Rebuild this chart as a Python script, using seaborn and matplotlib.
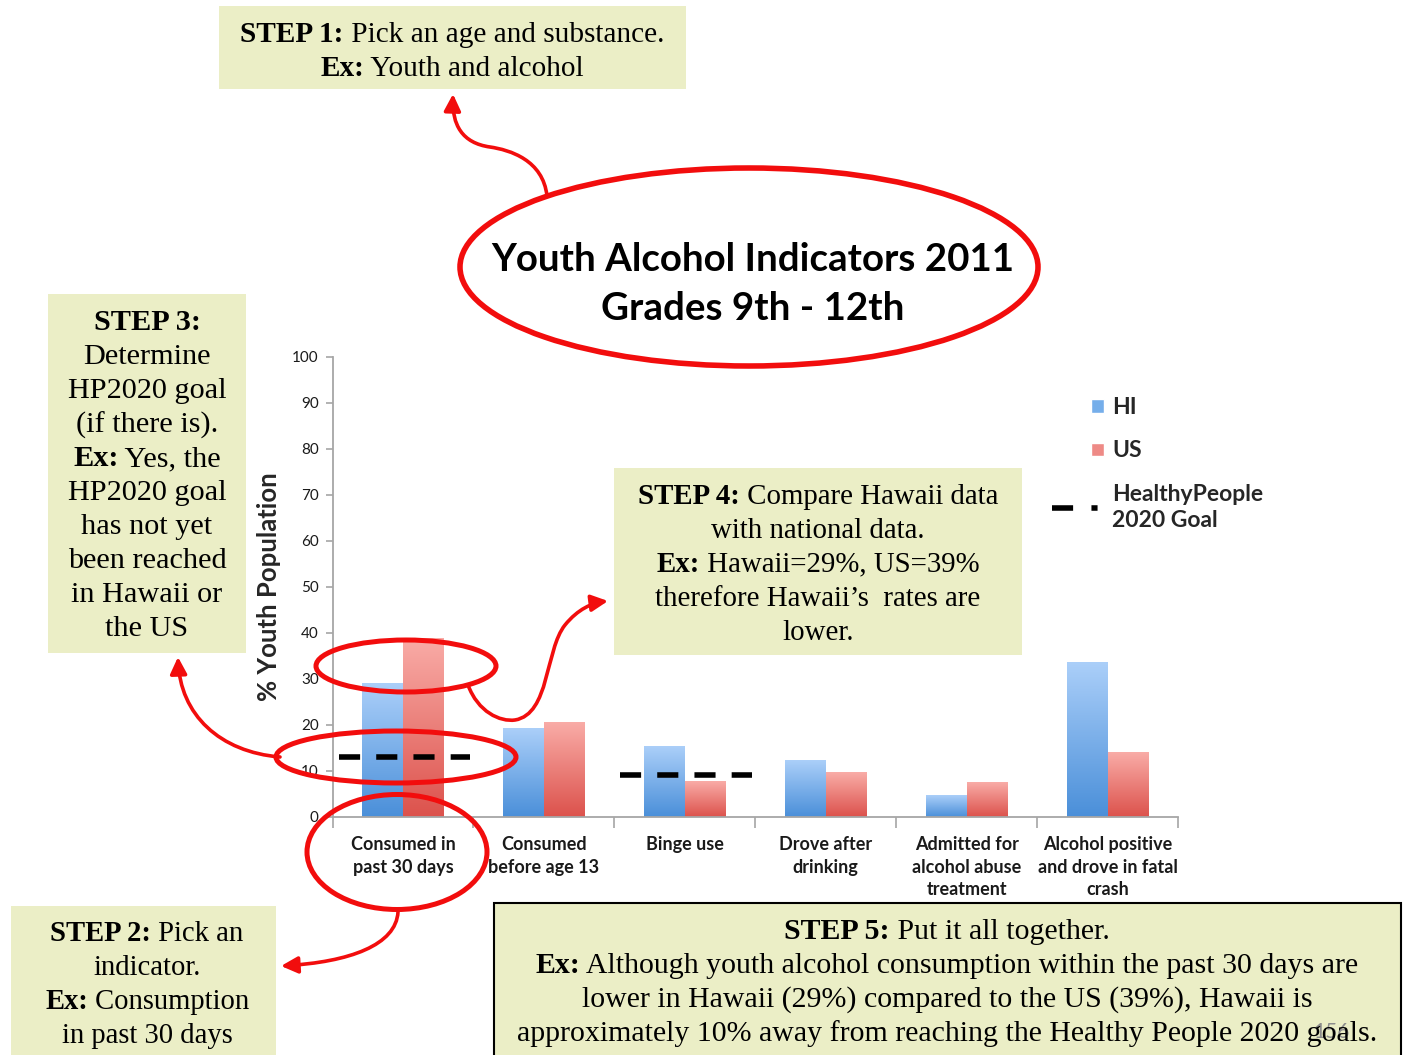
import numpy as np
import pandas as pd
import matplotlib
matplotlib.use('Agg')
import matplotlib.pyplot as plt
import seaborn as sns
from matplotlib.patches import Rectangle, Ellipse, FancyArrowPatch, Patch
from matplotlib.path import Path
from matplotlib.colors import LinearSegmentedColormap
from matplotlib.lines import Line2D
from matplotlib.legend_handler import HandlerPatch

# data
categories = ["Consumed in\npast 30 days", "Consumed\nbefore age 13", "Binge use",
              "Drove after\ndrinking", "Admitted for\nalcohol abuse\ntreatment",
              "Alcohol positive\nand drove in fatal\ncrash"]
hi_values = [29.1, 19.3, 15.4, 12.3, 4.7, 33.5]
us_values = [38.7, 20.5, 7.8, 9.7, 7.6, 14.1]
goal_index = [0, 2]
goal_values = [12.9, 9.0]
y_ticks = list(range(0, 101, 10))
places = ["HI", "US"]
legend_labels = ["HI", "US", "HealthyPeople\n2020 Goal"]

W, H = 1405, 1055
GRAY = '#a6a6a6'
BOX = '#ebeec6'
RED = '#f20d0d'
SERIF = ['Liberation Serif', 'DejaVu Serif']

sns.set_style('white')
plt.rcParams['font.family'] = ['Lato', 'DejaVu Sans']

fig = plt.figure(figsize=(W / 100, H / 100), dpi=100)
ax = fig.add_axes([332.5 / W, (H - 816.7) / H, 845.5 / W, 460 / H])


def px(x, y):
    return x / W, 1 - y / H


df = pd.DataFrame({'indicator': categories * 2,
                   'value': hi_values + us_values,
                   'place': ['HI'] * len(categories) + ['US'] * len(categories)})
sns.barplot(data=df, x='indicator', y='value', hue='place', order=categories,
            hue_order=places, palette={'HI': '#6fa8e8', 'US': '#ec7d78'},
            width=0.575, saturation=1, errorbar=None, legend=False, ax=ax)

# gradient fill of the bars
grad = np.linspace(0, 1, 256).reshape(-1, 1)
cmaps = {'HI': LinearSegmentedColormap.from_list('hi', ['#4a8fd9', '#abcff9']),
         'US': LinearSegmentedColormap.from_list('us', ['#dc524c', '#f9aca7'])}
for cont, key in zip(ax.containers, places):
    for bar in cont:
        x0, y0 = bar.get_x(), bar.get_y()
        ax.imshow(grad, extent=[x0, x0 + bar.get_width(), y0, y0 + bar.get_height()],
                  origin='lower', aspect='auto', cmap=cmaps[key], zorder=2)
        bar.set_visible(False)

goal_style = (0, (3.8, 2.9))
ax.hlines(goal_values, np.array(goal_index) - 0.457, np.array(goal_index) + 0.478,
          colors='black', linewidth=4, linestyles=[goal_style], zorder=4)

ax.set_xlim(-0.5, len(categories) - 0.5)
ax.set_ylim(0, 100)
ax.set_yticks(y_ticks)
ax.set_xticks(range(len(categories)))
ax.set_xticklabels(categories, fontweight='bold', fontsize=13, linespacing=1.4, color='#1a1a1a')
ax.set_xticks(np.arange(-0.5, len(categories), 1), minor=True)
ax.tick_params(axis='x', which='major', length=0, pad=14)
ax.tick_params(axis='x', which='minor', bottom=True, length=8, width=1.2, color=GRAY)
ax.tick_params(axis='y', left=True, length=5, width=1.2, color=GRAY, labelsize=11,
               pad=5, labelcolor='#1a1a1a')
sns.despine(ax=ax)
for s in ['left', 'bottom']:
    ax.spines[s].set_color(GRAY)
    ax.spines[s].set_linewidth(1.3)
ax.set_xlabel('')
ax.set_ylabel('% Youth Population', fontsize=18.5, fontweight='bold')
ax.yaxis.set_label_coords(-0.061, 0.5)


def small_square(legend, orig_handle, xdescent, ydescent, width, height, fontsize):
    s = 9.5
    return Rectangle((-xdescent + width - s, -ydescent + (height - s) / 2), s, s)


handles = [Patch(facecolor='#75aeea', label=legend_labels[0]),
           Patch(facecolor='#ee8a86', label=legend_labels[1]),
           Line2D([], [], color='black', lw=4, linestyle=(0, (3.8, 3.3, 1.1, 10)),
                  label=legend_labels[2])]
leg = ax.legend(handles=handles, loc='upper left', bbox_to_anchor=px(1052, 397),
                bbox_transform=fig.transFigure, frameon=False,
                prop={'weight': 'bold', 'size': 16.5}, handlelength=2.27, handletextpad=0.35,
                labelspacing=0.98, borderpad=0, borderaxespad=0,
                handler_map={Patch: HandlerPatch(patch_func=small_square)})
leg.get_texts()[2].set_linespacing(1.3)

renderer = fig.canvas.get_renderer()


def line_width(parts, size, family):
    total = 0
    for s, b in parts:
        t = fig.text(0, 0, s, fontsize=size, family=family,
                     fontweight='bold' if b else 'normal')
        total += t.get_window_extent(renderer).width
        t.remove()
    return total


def text_block(cx, ys, lines, target, family=SERIF, base=20, color='black', bold=False):
    lines = [l if isinstance(l, list) else [(l, bold)] for l in lines]
    widest = max(line_width(l, base, family) for l in lines)
    size = base * target / widest
    for parts, y in zip(lines, ys):
        total = line_width(parts, size, family)
        x = cx - total / 2
        for s, b in parts:
            t = fig.text(*px(x, y + 0.34 * size * 100 / 72), s, fontsize=size, family=family,
                         fontweight='bold' if b else 'normal', va='baseline', ha='left',
                         color=color, zorder=5)
            x += t.get_window_extent(renderer).width


def box(x0, y0, x1, y1, edge=None):
    fig.add_artist(Rectangle(px(x0, y1), (x1 - x0) / W, (y1 - y0) / H, transform=fig.transFigure,
                             facecolor=BOX, edgecolor=edge if edge else 'none',
                             lw=1.5 if edge else 0, zorder=1))


def ellipse(cx, cy, w, h, lw=3.6):
    fig.add_artist(Ellipse(px(cx, cy), w / W, h / H, transform=fig.transFigure,
                           facecolor='none', edgecolor=RED, lw=lw, zorder=6))


def arrow(points):
    verts = [px(*p) for p in points]
    codes = [Path.MOVETO] + [Path.CURVE4] * (len(points) - 1)
    fig.add_artist(FancyArrowPatch(path=Path(verts, codes), transform=fig.transFigure,
                                   arrowstyle='-|>,head_length=10,head_width=5',
                                   color=RED, lw=2.6, zorder=6))


# step boxes
box(219, 6, 686, 89)
text_block(452, [32, 66], [[("STEP 1:", True), (" Pick an age and substance.", False)],
                           [("Ex:", True), (" Youth and alcohol", False)]], 423)

box(48, 294, 246, 653)
text_block(147, [320 + 34 * k for k in range(10)],
           [[("STEP 3:", True)], "Determine", "HP2020 goal", "(if there is).",
            [("Ex:", True), (" Yes, the", False)], "HP2020 goal", "has not yet",
            "been reached", "in Hawaii or", "the US"], 159)

box(614, 468, 1022, 655)
text_block(818, [494 + 34 * k for k in range(5)],
           [[("STEP 4:", True), (" Compare Hawaii data", False)], "with national data.",
            [("Ex:", True), (" Hawaii=29%, US=39%", False)],
            "therefore Hawaii\u2019s  rates are", "lower."], 361)

box(11, 906, 276, 1060)
text_block(147, [931, 965, 999, 1033],
           [[("STEP 2:", True), (" Pick an", False)], "indicator.",
            [("Ex:", True), (" Consumption", False)], "in past 30 days"], 204)

box(494, 903, 1401, 1060, edge='black')
# slide number sits under the last word, as on the original slide
fig.text(*px(1331, 1038), "156", fontsize=15, color='#8c8c8c', ha='center', va='baseline', zorder=4)
text_block(947, [929, 963, 997, 1031],
           [[("STEP 5:", True), (" Put it all together.", False)],
            [("Ex:", True), (" Although youth alcohol consumption within the past 30 days are", False)],
            "lower in Hawaii (29%) compared to the US (39%), Hawaii is",
            "approximately 10% away from reaching the Healthy People 2020 goals."], 861)

# title in the big ellipse
ellipse(749, 267, 578, 198, lw=4)
text_block(753, [258, 307], ["Youth Alcohol Indicators 2011", "Grades 9th - 12th"], 523,
           family=['Lato', 'DejaVu Sans'], bold=True)

# highlight ellipses on the chart
ellipse(406, 666, 180, 52)
ellipse(396, 757, 240, 52)
ellipse(397, 852, 180, 115)

# arrows
arrow([(547, 196), (543, 160), (510, 150), (490, 147), (462, 143), (452, 125), (453, 94)])
arrow([(280, 757), (220, 752), (180, 715), (178, 657)])
arrow([(468, 685), (478, 712), (500, 722), (515, 720), (550, 714), (545, 650), (565, 625),
       (578, 609), (592, 603), (608, 601)])
arrow([(398, 912), (396, 945), (350, 962), (281, 966)])

fig.savefig('out.png', dpi=100)
